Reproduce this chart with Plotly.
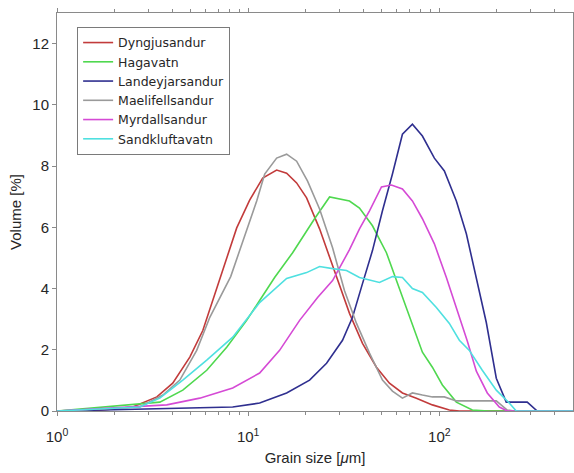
import plotly.graph_objects as go

# ---- data (grain size in µm, volume in %) ----
dyng_x = [1.0, 1.68, 2.49, 3.33, 4.03, 4.95, 5.79, 6.53, 7.36, 8.71, 10.18, 11.91, 14.09, 15.89, 17.92,
          20.21, 23.63, 28.99, 33.88, 39.62, 46.88, 54.81, 64.09, 75.84, 91.93, 112.8, 127.2, 500]
dyng_y = [0, 0.03, 0.13, 0.46, 0.91, 1.76, 2.63, 3.61, 4.59, 5.98, 6.89, 7.61, 7.87, 7.77, 7.45,
          6.96, 5.95, 4.36, 3.19, 2.21, 1.43, 0.91, 0.59, 0.42, 0.20, 0.03, 0, 0]

haga_x = [1.0, 3.45, 4.55, 6.07, 7.72, 9.82, 11.48, 13.75, 17.08, 22.24, 26.65, 33.88, 38.21, 44.68,
          52.86, 61.81, 72.28, 81.53, 91.93, 103.7, 122.7, 148.7, 180.2, 500]
haga_y = [0, 0.29, 0.68, 1.33, 2.08, 2.96, 3.61, 4.36, 5.17, 6.28, 6.99, 6.86, 6.63, 6.05,
          5.17, 4.00, 2.89, 1.92, 1.43, 0.85, 0.29, 0.03, 0, 0]

land_x = [1.0, 4.55, 8.30, 11.48, 15.89, 20.95, 25.70, 31.15, 35.13, 39.62, 44.68, 50.39, 56.83, 64.09,
          72.28, 81.53, 94.17, 106.2, 122.7, 138.4, 156.1, 176.0, 198.5, 223.8, 288.1, 324.9, 500]
land_y = [0, 0.10, 0.13, 0.26, 0.59, 1.01, 1.56, 2.31, 3.06, 4.16, 5.24, 6.54, 7.74, 9.04,
          9.37, 8.98, 8.26, 7.84, 6.86, 5.79, 4.36, 2.89, 1.07, 0.29, 0.29, 0, 0]

mael_x = [1.0, 2.71, 3.58, 4.39, 5.38, 6.30, 8.10, 9.82, 11.08, 12.20, 14.09, 15.89, 17.92, 20.45,
          23.63, 27.63, 31.91, 36.86, 43.11, 50.39, 56.83, 64.09, 72.28, 81.53, 91.93, 106.2, 122.7,
          198.5, 226.5, 246.4, 500]
mael_y = [0, 0.13, 0.52, 1.01, 1.98, 3.06, 4.39, 5.95, 6.86, 7.74, 8.26, 8.39, 8.16, 7.51,
          6.60, 5.33, 3.93, 2.86, 1.89, 1.01, 0.65, 0.42, 0.59, 0.52, 0.46, 0.46, 0.33,
          0.33, 0.03, 0, 0]

myrd_x = [1.0, 3.75, 5.58, 8.30, 11.48, 14.60, 18.58, 23.07, 27.63, 33.88, 38.21, 43.11, 49.79, 56.15,
          64.09, 72.28, 81.53, 94.17, 108.8, 124.2, 140.1, 156.1, 178.1, 205.8, 226.5, 500]
myrd_y = [0, 0.20, 0.42, 0.75, 1.24, 1.98, 2.96, 3.71, 4.26, 5.27, 5.95, 6.54, 7.32, 7.38,
          7.25, 6.86, 6.28, 5.46, 4.36, 3.28, 2.28, 1.30, 0.59, 0.13, 0, 0]

sand_x = [1.0, 2.71, 3.45, 4.55, 6.07, 8.30, 11.48, 15.89, 20.21, 23.63, 27.63, 32.69, 38.21, 48.61,
          56.83, 64.09, 72.28, 81.53, 96.45, 112.8, 127.2, 143.5, 167.7, 198.5, 232.0, 252.5, 500]
sand_y = [0, 0.13, 0.42, 1.01, 1.66, 2.41, 3.54, 4.33, 4.52, 4.72, 4.65, 4.59, 4.36, 4.20,
          4.39, 4.36, 4.00, 3.87, 3.38, 2.86, 2.31, 1.98, 1.33, 0.68, 0.26, 0, 0]

series = [
    ("Dyngjusandur", dyng_x, dyng_y, "#c23b3b"),
    ("Hagavatn", haga_x, haga_y, "#4fd84f"),
    ("Landeyjarsandur", land_x, land_y, "#2f2f8f"),
    ("Maelifellsandur", mael_x, mael_y, "#9a9a9a"),
    ("Myrdallsandur", myrd_x, myrd_y, "#d54ad5"),
    ("Sandkluftavatn", sand_x, sand_y, "#4fe0e0"),
]

major_ticks = [1, 10, 100]
major_labels = ["10<sup>0</sup>", "10<sup>1</sup>", "10<sup>2</sup>"]
minor_ticks = [2, 3, 4, 5, 6, 7, 8, 9, 20, 30, 40, 50, 60, 70, 80, 90, 200, 300, 400]
y_ticks = [0, 2, 4, 6, 8, 10, 12]

fig = go.Figure()
for name, xs, ys, col in series:
    fig.add_trace(go.Scatter(x=xs, y=ys, mode="lines", name=name,
                             line=dict(color=col, width=1.6)))

axis_col = "#8a8a8a"
font_fam = "Arial, Liberation Sans, sans-serif"

fig.update_layout(
    width=574, height=473,
    margin=dict(l=57, r=1, t=13, b=62),
    paper_bgcolor="white", plot_bgcolor="white",
    font=dict(family=font_fam, color="#262626", size=14),
    showlegend=True,
    legend=dict(x=0.039, y=0.965, xanchor="left", yanchor="top",
                bgcolor="white", bordercolor="#7a7a7a", borderwidth=1,
                font=dict(size=12.5, color="#262626", family="DejaVu Sans, Arial, sans-serif"),
                tracegroupgap=0, itemwidth=30),
    xaxis=dict(type="log", range=[0, 2.699], automargin=False,
               tickvals=major_ticks, ticktext=major_labels,
               ticks="outside", ticklen=4, tickcolor=axis_col,
               ticklabelstandoff=8,
               minor=dict(tickvals=minor_ticks, ticks="outside", ticklen=3, tickcolor=axis_col),
               showline=True, linecolor=axis_col, linewidth=1, mirror="allticks",
               showgrid=False, zeroline=False,
               tickfont=dict(size=15),
               title=dict(text="Grain size [<i>μ</i>m]", font=dict(size=15), standoff=8)),
    yaxis=dict(range=[0, 13], tickvals=y_ticks, automargin=False,
               ticks="outside", ticklen=4, tickcolor=axis_col,
               showline=True, linecolor=axis_col, linewidth=1, mirror="allticks",
               showgrid=False, zeroline=False,
               tickfont=dict(size=15),
               title=dict(text="Volume [%]", font=dict(size=15), standoff=7)),
)

fig.write_html("out.html", config={"displayModeBar": False},
               post_script="document.body.style.margin='0px';document.body.style.overflow='hidden';")
